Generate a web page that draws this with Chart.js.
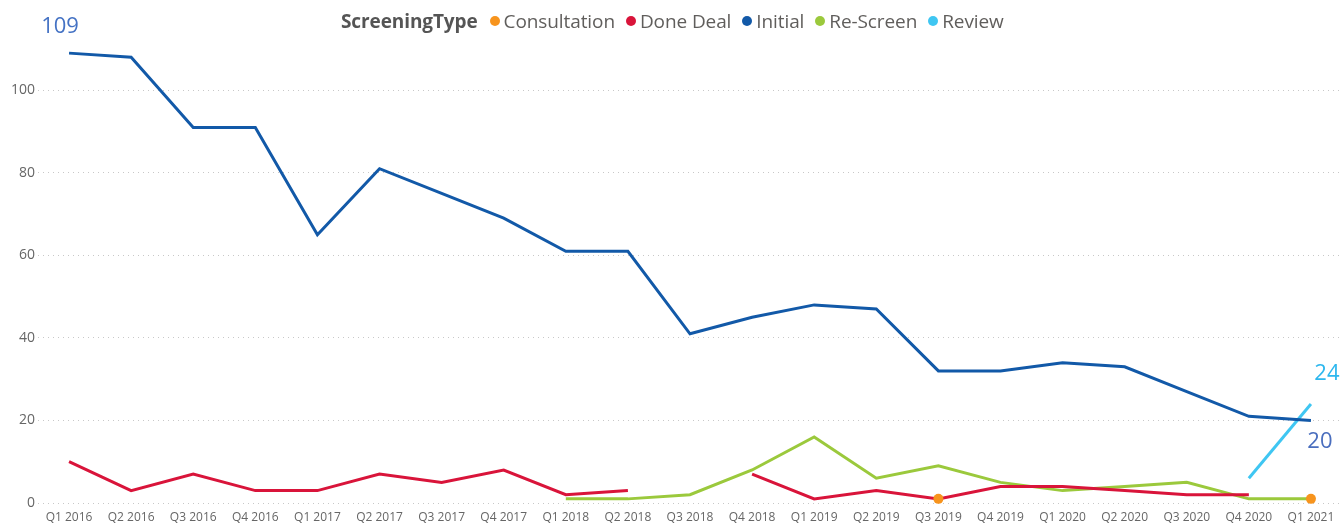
<!DOCTYPE html>
<html>
<head>
<meta charset="utf-8">
<script src="https://cdn.jsdelivr.net/npm/chart.js@4.4.1/dist/chart.umd.min.js"></script>
<style>
  html, body { margin: 0; padding: 0; background: #fff; }
  #wrap { position: relative; width: 1342px; height: 524px; }
  #legend { position: absolute; left: 341px; top: 8px; font-family: "Open Sans", "Noto Sans", sans-serif; font-size: 19px; color: #605E5C; white-space: nowrap; display: flex; align-items: center; letter-spacing: -0.1px; }
  #legend .title { font-weight: bold; color: #555; margin-right: 12px; }
  #legend .item { display: flex; align-items: center; margin-right: 11px; }
  #legend .dot { width: 10px; height: 10px; border-radius: 50%; display: inline-block; margin-right: 4px; }
</style>
</head>
<body>
<div id="wrap">
  <canvas id="c" width="1342" height="524"></canvas>
  <div id="legend"></div>
</div>
<script>
const categories = ["Q1 2016","Q2 2016","Q3 2016","Q4 2016","Q1 2017","Q2 2017","Q3 2017","Q4 2017","Q1 2018","Q2 2018","Q3 2018","Q4 2018","Q1 2019","Q2 2019","Q3 2019","Q4 2019","Q1 2020","Q2 2020","Q3 2020","Q4 2020","Q1 2021"];
const consultation = [null,null,null,null,null,null,null,null,null,null,null,null,null,null,1,null,null,null,null,null,1];
const doneDeal = [10,3,7,3,3,7,5,8,2,3,null,7,1,3,1,4,4,3,2,2,null];
const initial = [109,108,91,91,65,81,75,69,61,61,41,45,48,47,32,32,34,33,27,21,20];
const reScreen = [null,null,null,null,null,null,null,null,1,1,2,8,16,6,9,5,3,4,5,1,1];
const review = [null,null,null,null,null,null,null,null,null,null,null,null,null,null,null,null,null,null,null,6,24];
const yTicks = [0,20,40,60,80,100];
const seriesNames = ["Consultation","Done Deal","Initial","Re-Screen","Review"];
const seriesColors = ["#F7941D","#D9143A","#1259A8","#9BC93C","#3FC6F2"];
const legendTitle = "ScreeningType";
const dataLabels = [
  {series: 2, index: 0, text: "109", color: "#4472C4", dx: -9, dy: -26},
  {series: 4, index: 20, text: "24", color: "#2DB7EE", dx: 16, dy: -30},
  {series: 2, index: 20, text: "20", color: "#4A6EBE", dx: 9, dy: 21}
];

// legend (HTML text)
const lg = document.getElementById('legend');
const t = document.createElement('span'); t.className = 'title'; t.textContent = legendTitle; lg.appendChild(t);
seriesNames.forEach((n, i) => {
  const it = document.createElement('span'); it.className = 'item';
  const d = document.createElement('span'); d.className = 'dot'; d.style.background = seriesColors[i];
  const s = document.createElement('span'); s.textContent = n;
  it.appendChild(d); it.appendChild(s); lg.appendChild(it);
});

const allSeries = [consultation, doneDeal, initial, reScreen, review];
const datasets = allSeries.map((arr, i) => ({
  label: seriesNames[i],
  data: arr,
  borderColor: seriesColors[i],
  backgroundColor: seriesColors[i],
  borderWidth: 3,
  tension: 0,
  spanGaps: false,
  clip: false,
  pointRadius: arr.map((v, k) => (v !== null && (arr[k-1] == null) && (arr[k+1] == null)) ? 5 : 0),
  pointHoverRadius: 0,
  pointBorderWidth: 0
}));

const labelPlugin = {
  id: 'dlabels',
  afterDatasetsDraw(chart) {
    const ctx = chart.ctx;
    ctx.save();
    ctx.font = '22px "Open Sans", "Noto Sans", sans-serif';
    ctx.textAlign = 'center';
    ctx.textBaseline = 'middle';
    dataLabels.forEach(l => {
      const x = chart.scales.x.getPixelForValue(l.index);
      const y = chart.scales.y.getPixelForValue(allSeries[l.series][l.index]);
      ctx.fillStyle = l.color;
      ctx.fillText(l.text, x + l.dx, y + l.dy);
    });
    ctx.restore();
  }
};

new Chart(document.getElementById('c'), {
  type: 'line',
  data: { labels: categories, datasets },
  options: {
    responsive: false,
    animation: false,
    layout: { autoPadding: false, padding: { top: 49, left: 0, right: 0, bottom: 0 } },
    plugins: { legend: { display: false }, tooltip: { enabled: false } },
    scales: {
      x: {
        offset: true,
        afterFit(scale) { scale.height = 21; scale.paddingLeft = 0; scale.paddingRight = 0; },
        grid: { display: false, drawTicks: false },
        border: { display: false },
        ticks: { autoSkip: false, maxRotation: 0, padding: 7, color: '#666', font: { family: '"Open Sans", "Noto Sans", sans-serif', size: 12 } }
      },
      y: {
        min: 0, max: 110,
        afterBuildTicks(scale) { scale.ticks = yTicks.map(v => ({ value: v })); },
        afterFit(scale) { scale.width = 38; },
        grid: { color: '#C8C8C8', lineWidth: 1, drawTicks: false },
        border: { display: false, dash: [1, 4] },
        ticks: { padding: 3, color: '#666', font: { family: '"Open Sans", "Noto Sans", sans-serif', size: 14 } }
      }
    }
  },
  plugins: [labelPlugin]
});
</script>
</body>
</html>
